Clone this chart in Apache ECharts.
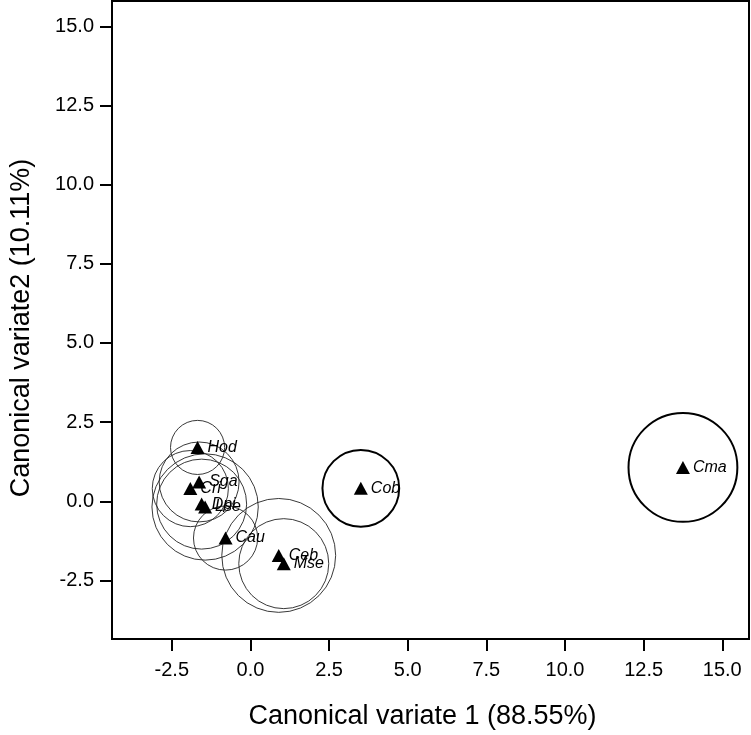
<!DOCTYPE html>
<html>
<head>
<meta charset="utf-8">
<script src="https://cdn.jsdelivr.net/npm/echarts@6/dist/echarts.min.js"></script>
<style>
html,body{margin:0;padding:0;background:#fff;}
#chart{width:751px;height:735px;}
</style>
</head>
<body>
<div id="chart"></div>
<script>
// ---- data ----
const groups  = ['Hod','Sga','Cri','Dpi','Lse','Cau','Ceb','Mse','Cob','Cma'];
const cv1     = [-1.68,-1.63,-1.91,-1.55,-1.44,-0.79,0.90,1.06,3.51,13.75];
const cv2     = [1.70,0.61,0.40,-0.09,-0.18,-1.16,-1.71,-1.97,0.41,1.07];
const radius  = [0.86,1.27,1.21,1.43,1.69,1.02,1.81,1.43,1.22,1.73];
const tickValues = [-2.5,0.0,2.5,5.0,7.5,10.0,12.5,15.0];
const xTitle = 'Canonical variate 1 (88.55%)';
const yTitle = 'Canonical variate2 (10.11%)';
const thickGroups = ['Cob','Cma'];

const FONT = '"Liberation Sans", Arial, sans-serif';
const chart = echarts.init(document.getElementById('chart'), null, {renderer:'canvas'});

const circleData = groups.map((g,i)=>[cv1[i], cv2[i], radius[i]]);
const pointData = groups.map((g,i)=>({name:g, value:[cv1[i], cv2[i]]}));

function axisCommon(margin){
  return {
    axisLine:{show:true, onZero:false, lineStyle:{color:'#000', width:2}},
    axisTick:{show:true, inside:false, length:12, lineStyle:{color:'#000', width:2}, customValues:tickValues},
    axisLabel:{show:true, color:'#000', fontFamily:FONT, fontSize:20, margin:margin,
      customValues:tickValues, formatter:v=>Number(v).toFixed(1)},
    splitLine:{show:false}
  };
}

const option = {
  backgroundColor:'#fff',
  animation:false,
  grid:{left:112, right:2, top:1, bottom:96, show:true, borderColor:'#000', borderWidth:2, backgroundColor:'transparent'},
  xAxis:Object.assign({type:'value', min:-4.4, max:15.85,
    name:xTitle, nameLocation:'middle', nameGap:64,
    nameTextStyle:{fontFamily:FONT, fontSize:27, color:'#000', padding:[0,16,0,0]}}, axisCommon(21)),
  yAxis:Object.assign({type:'value', min:-4.35, max:15.8,
    name:yTitle, nameLocation:'middle', nameGap:77,
    nameTextStyle:{fontFamily:FONT, fontSize:27, color:'#000', padding:[0,16,0,0]}}, axisCommon(18)),
  series:[
    {
      type:'custom',
      data:circleData,
      z:2,
      renderItem:function(params, api){
        const c = api.coord([api.value(0), api.value(1)]);
        const r = api.size([api.value(2), 0])[0];
        const name = groups[params.dataIndex];
        const thick = thickGroups.indexOf(name) >= 0;
        return {
          type:'circle',
          shape:{cx:c[0], cy:c[1], r:r},
          style:{fill:'none', stroke: thick ? '#000' : '#222', lineWidth: thick ? 2 : 0.9}
        };
      },
      silent:true
    },
    {
      type:'scatter',
      data:pointData,
      z:5,
      symbol:'triangle',
      symbolSize:[14,13],
      itemStyle:{color:'#000', opacity:1},
      label:{show:true, position:'right', distance:3, offset:[0,4],
        formatter:p=>p.name, fontFamily:FONT, fontStyle:'italic', fontSize:16, color:'#000'},
      labelLayout:{hideOverlap:false}
    }
  ]
};
chart.setOption(option);
</script>
</body>
</html>
